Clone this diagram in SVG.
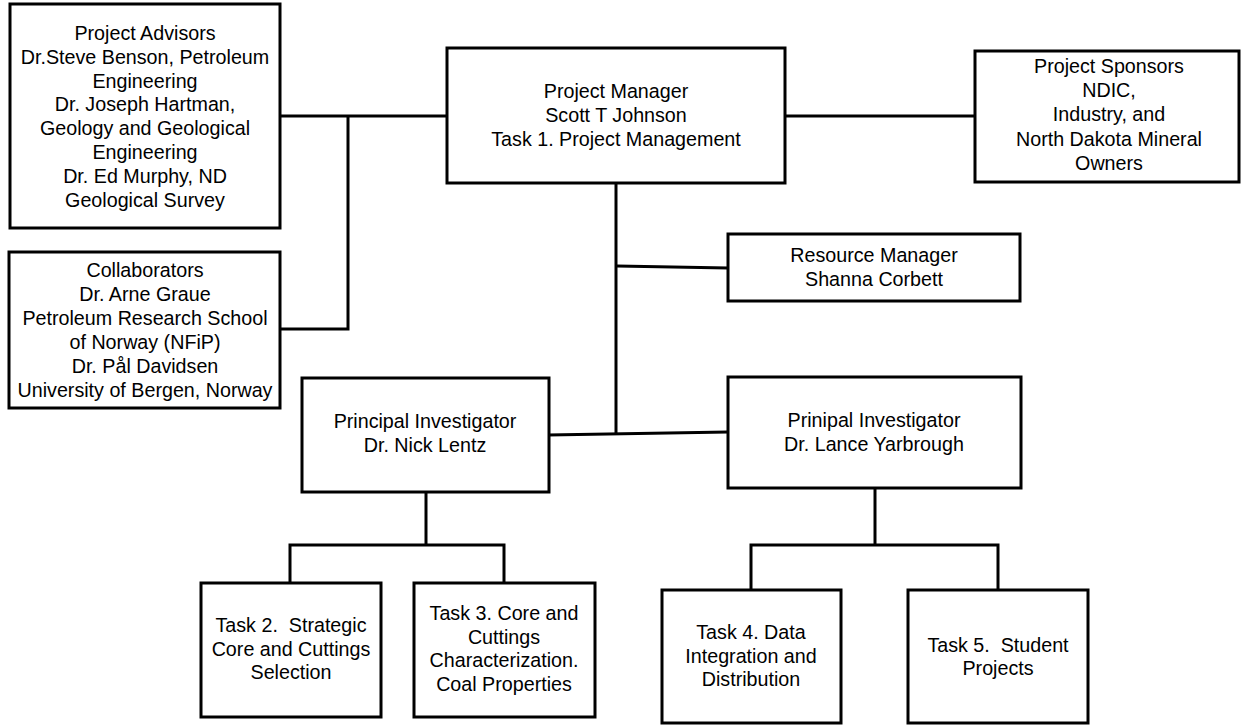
<svg xmlns="http://www.w3.org/2000/svg" width="1241" height="725" viewBox="0 0 1241 725">
<style>
.box{fill:#fff;stroke:#000;stroke-width:3}
.ln{fill:none;stroke:#000;stroke-width:3}
text{font-family:"Liberation Sans",Arial,sans-serif;font-size:19.7px;fill:#000;text-anchor:middle;white-space:pre}
</style>
<rect width="1241" height="725" fill="#fff"/>
<g id="connectors">
<polyline class="ln" points="280,116 448,116"/>
<polyline class="ln" points="348,116 348,329 280,329"/>
<polyline class="ln" points="785,116 975,116"/>
<polyline class="ln" points="616,183 616,434"/>
<polyline class="ln" points="617,266 728,268"/>
<polyline class="ln" points="548,435 728,432"/>
<polyline class="ln" points="426,492 426,545"/>
<polyline class="ln" points="290,583 290,545 504,545 504,583"/>
<polyline class="ln" points="875,488 875,545"/>
<polyline class="ln" points="751,590 751,545 998,545 998,590"/>
</g>
<g id="advisors">
<rect class="box" x="10" y="4" width="270" height="224"/>
<text x="145" y="40"><tspan x="145">Project Advisors</tspan><tspan x="145" dy="23.8">Dr.Steve Benson, Petroleum</tspan><tspan x="145" dy="23.8">Engineering</tspan><tspan x="145" dy="23.8">Dr. Joseph Hartman,</tspan><tspan x="145" dy="23.8">Geology and Geological</tspan><tspan x="145" dy="23.8">Engineering</tspan><tspan x="145" dy="23.8">Dr. Ed Murphy, ND</tspan><tspan x="145" dy="23.8">Geological Survey</tspan></text>
</g>
<g id="collaborators">
<rect class="box" x="9" y="252" width="271" height="156"/>
<text x="145" y="277"><tspan x="145">Collaborators</tspan><tspan x="145" dy="24">Dr. Arne Graue</tspan><tspan x="145" dy="24">Petroleum Research School</tspan><tspan x="145" dy="24">of Norway (NFiP)</tspan><tspan x="145" dy="24">Dr. Pål Davidsen</tspan><tspan x="145" dy="24">University of Bergen, Norway</tspan></text>
</g>
<g id="pm">
<rect class="box" x="447" y="48" width="338" height="135"/>
<text x="616" y="98"><tspan x="616">Project Manager</tspan><tspan x="616" dy="23.8">Scott T Johnson</tspan><tspan x="616" dy="23.8">Task 1. Project Management</tspan></text>
</g>
<g id="sponsors">
<rect class="box" x="975" y="51" width="264" height="131"/>
<text x="1109" y="73"><tspan x="1109">Project Sponsors</tspan><tspan x="1109" dy="24.2">NDIC,</tspan><tspan x="1109" dy="24.2">Industry, and</tspan><tspan x="1109" dy="24.2">North Dakota Mineral</tspan><tspan x="1109" dy="24.2">Owners</tspan></text>
</g>
<g id="resource">
<rect class="box" x="728" y="234" width="292" height="67"/>
<text x="874" y="262"><tspan x="874">Resource Manager</tspan><tspan x="874" dy="24">Shanna Corbett</tspan></text>
</g>
<g id="pi-lentz">
<rect class="box" x="302" y="378" width="247" height="114"/>
<text x="425" y="428"><tspan x="425">Principal Investigator</tspan><tspan x="425" dy="23.8">Dr. Nick Lentz</tspan></text>
</g>
<g id="pi-yarbrough">
<rect class="box" x="728" y="377" width="293" height="111"/>
<text x="874" y="427"><tspan x="874">Prinipal Investigator</tspan><tspan x="874" dy="23.8">Dr. Lance Yarbrough</tspan></text>
</g>
<g id="task2">
<rect class="box" x="201" y="583" width="180" height="134"/>
<text x="291" y="632"><tspan x="291">Task 2.  Strategic</tspan><tspan x="291" dy="23.5">Core and Cuttings</tspan><tspan x="291" dy="23.5">Selection</tspan></text>
</g>
<g id="task3">
<rect class="box" x="414" y="583" width="181" height="134"/>
<text x="504" y="620"><tspan x="504">Task 3. Core and</tspan><tspan x="504" dy="23.5">Cuttings</tspan><tspan x="504" dy="23.5">Characterization.</tspan><tspan x="504" dy="23.5">Coal Properties</tspan></text>
</g>
<g id="task4">
<rect class="box" x="662" y="590" width="179" height="133"/>
<text x="751" y="639"><tspan x="751">Task 4. Data</tspan><tspan x="751" dy="23.5">Integration and</tspan><tspan x="751" dy="23.5">Distribution</tspan></text>
</g>
<g id="task5">
<rect class="box" x="908" y="590" width="180" height="133"/>
<text x="998" y="652"><tspan x="998">Task 5.  Student</tspan><tspan x="998" dy="23">Projects</tspan></text>
</g>
</svg>
